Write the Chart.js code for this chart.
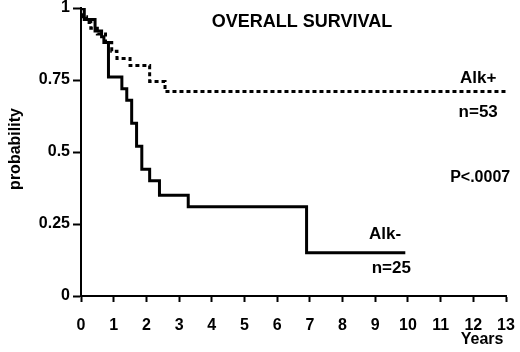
<!DOCTYPE html>
<html>
<head>
<meta charset="utf-8">
<script src="https://cdn.jsdelivr.net/npm/chart.js@4/dist/chart.umd.min.js"></script>
<style>
  html, body { margin: 0; padding: 0; background: #fff; }
  #wrap { width: 520px; height: 352px; }
</style>
</head>
<body>
<div id="wrap"><canvas id="chart" width="520" height="352"></canvas></div>
<script>
// Kaplan-Meier steps (years, survival probability)
const alkNegYears = [0, 0.1, 0.43, 0.63, 0.7, 0.84, 1.25, 1.4, 1.55, 1.7, 1.86, 2.1, 2.4, 3.28, 6.9, 9.92];
const alkNegSurv  = [1, 0.96, 0.92, 0.90, 0.88, 0.76, 0.72, 0.68, 0.60, 0.52, 0.44, 0.40, 0.35, 0.31, 0.15, 0.15];
const alkPosYears = [0, 0.05, 0.17, 0.3, 0.5, 0.75, 0.94, 1.1, 1.5, 2.1, 2.57, 13];
const alkPosSurv  = [1, 0.97, 0.95, 0.93, 0.91, 0.88, 0.85, 0.825, 0.80, 0.745, 0.71, 0.71];

// Axis ticks
const yearTicks = [0, 1, 2, 3, 4, 5, 6, 7, 8, 9, 10, 11, 12, 13];
const probTicks = [0, 0.25, 0.5, 0.75, 1];

const FONT = '"Liberation Sans", Arial, sans-serif';
const toPoints = (xs, ys) => xs.map((x, i) => ({ x, y: ys[i] }));

// Annotation texts
const notes = {
  id: 'notes',
  afterDraw(chart) {
    const { ctx, scales: { x, y } } = chart;
    const put = (txt, px, py, size) => {
      ctx.font = `bold ${size}px ${FONT}`;
      ctx.fillText(txt, px, py);
    };
    ctx.save();
    ctx.fillStyle = '#000';
    ctx.textAlign = 'center';
    ctx.textBaseline = 'middle';
    put('OVERALL SURVIVAL', x.getPixelForValue(6.76), y.getPixelForValue(0.951), 18);
    put('Alk+', x.getPixelForValue(12.15), y.getPixelForValue(0.757), 17);
    put('n=53', x.getPixelForValue(12.15), y.getPixelForValue(0.639), 17);
    put('P<.0007', x.getPixelForValue(12.21), y.getPixelForValue(0.41), 16);
    put('Alk-', x.getPixelForValue(9.3), y.getPixelForValue(0.215), 17);
    put('n=25', x.getPixelForValue(9.49), y.getPixelForValue(0.097), 17);
    put('Years', x.getPixelForValue(12.27), y.bottom + 44, 16);
    ctx.translate(16, 149);
    ctx.rotate(-Math.PI / 2);
    put('probability', 0, 0, 16);
    ctx.restore();
  }
};

const axisGrid = len => ({
  display: true,
  drawOnChartArea: false,
  drawTicks: true,
  tickLength: len,
  tickWidth: 2,
  color: '#000'
});

// fixed axis sizes, no extra padding for overhanging labels
const fixSize = (prop, val) => s => {
  s[prop] = val;
  s.paddingLeft = s.paddingRight = s.paddingTop = s.paddingBottom = 0;
};

new Chart(document.getElementById('chart'), {
  type: 'line',
  data: {
    datasets: [
      {
        label: 'Alk-',
        data: toPoints(alkNegYears, alkNegSurv),
        stepped: true,
        borderColor: '#000',
        borderWidth: 3,
        pointRadius: 0,
        fill: false
      },
      {
        label: 'Alk+',
        data: toPoints(alkPosYears, alkPosSurv),
        stepped: true,
        borderColor: '#000',
        borderWidth: 3,
        borderDash: [4, 3],
        borderCapStyle: 'butt',
        pointRadius: 0,
        fill: false
      }
    ]
  },
  options: {
    responsive: false,
    animation: false,
    devicePixelRatio: 1,
    layout: { padding: { left: 0, top: 8, right: 14, bottom: 0 } },
    plugins: {
      legend: { display: false },
      tooltip: { enabled: false }
    },
    scales: {
      x: {
        type: 'linear',
        min: 0,
        max: 13,
        afterBuildTicks: s => { s.ticks = yearTicks.map(v => ({ value: v })); },
        afterFit: fixSize('height', 56),
        grid: axisGrid(6),
        border: { display: true, color: '#000', width: 2 },
        ticks: {
          color: '#000',
          padding: 14,
          maxRotation: 0,
          autoSkip: false,
          callback: v => String(v),
          font: { family: FONT, size: 16, weight: 'bold' }
        }
      },
      y: {
        type: 'linear',
        min: 0,
        max: 1,
        afterBuildTicks: s => { s.ticks = probTicks.map(v => ({ value: v })); },
        afterFit: fixSize('width', 81),
        grid: axisGrid(8),
        border: { display: true, color: '#000', width: 2 },
        ticks: {
          color: '#000',
          padding: 3,
          autoSkip: false,
          callback: v => String(v),
          font: { family: FONT, size: 16, weight: 'bold' }
        }
      }
    }
  },
  plugins: [notes]
});
</script>
</body>
</html>
